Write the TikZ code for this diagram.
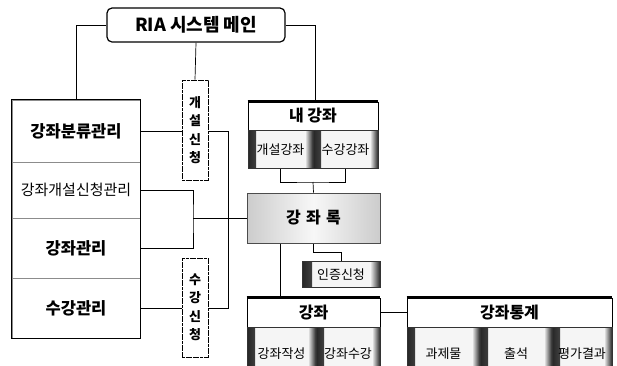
\documentclass[tikz,border=0pt]{standalone}
\usepackage{fontspec}
\setmainfont{Noto Sans CJK KR}
\usetikzlibrary{backgrounds}
\newcommand{\fs}[2]{\fontsize{#1}{#2}\selectfont}
\begin{document}
\begin{tikzpicture}[x=1pt,y=-1pt,
  conn/.style={draw, line width=0.7pt},
  cell/.style={draw=black!45, line width=0.4pt, minimum width=128pt, inner sep=0pt},
  vbox/.style={draw, line width=0.9pt, dash pattern=on 3pt off 0.6pt, fill=white,
    minimum width=26pt, align=center, inner sep=0pt, font=\fs{13}{18.5}\bfseries},
  hdr/.style={draw, line width=0.8pt, fill=white, inner sep=0pt, font=\fs{16}{18}\bfseries},
  edgeshade/.style={fill=gray!8, path picture={
     \shade[left color=black!85, right color=gray!8] (path picture bounding box.south west) rectangle ([xshift=#1]path picture bounding box.north west);
     \shade[left color=gray!8, right color=black!85] ([xshift=-#1]path picture bounding box.south east) rectangle (path picture bounding box.north east);}},
  sub/.style={edgeshade=8pt, draw=black!80, line width=0.6pt, inner sep=0pt, minimum height=53pt,
    text depth=0pt, font=\fs{13}{15}},
]
\useasboundingbox (0,0) rectangle (617,365);
\clip (0,0) rectangle (617,365);

% main
\node[draw, line width=1.2pt, rounded corners=5pt, fill=white, minimum width=178pt, minimum height=34pt,
  inner sep=0pt, font=\fs{18}{20}\bfseries] (ria) at (196,25) {RIA 시스템 메인};

% left box
\node[cell, minimum height=62pt, font=\fs{16.5}{18}\bfseries] (c1) at (76,131) {강좌분류관리};
\node[cell, minimum height=56pt, font=\fs{15}{16}] (c2) at (76,190) {강좌개설신청관리};
\node[cell, minimum height=60pt, font=\fs{16.5}{18}\bfseries] (c3) at (76,248) {강좌관리};
\node[cell, minimum height=60pt, font=\fs{16.5}{18}\bfseries] (c4) at (76,308) {수강관리};
\draw[line width=0.9pt] (c1.north west) rectangle (c4.south east);

% vertical request boxes
\node[vbox, minimum height=100pt] (gs) at (195,130) {개\\설\\신\\청};
\node[vbox, minimum height=99pt] (sg) at (195,307.5) {수\\강\\신\\청};

% my lectures
\node[hdr, minimum width=130pt, minimum height=28pt] (my) at (313,116) {내 강좌};
\node[sub, minimum width=65pt, minimum height=38pt] (my1) at (280.5,149) {개설강좌};
\node[sub, minimum width=65pt, minimum height=38pt] (my2) at (345.5,149) {수강강좌};
\draw[line width=2.5pt] (my.north west) -- (my.north east);

% lecture list
\node[draw=black!70, line width=0.6pt, left color=gray!40, right color=gray!40, middle color=gray!6,
  minimum width=133pt, minimum height=50pt, inner sep=0pt, font=\fs{16}{18}\bfseries] (list) at (313.5,218) {강\,\,좌\,\,록};

% certification
\node[sub, minimum width=78pt, minimum height=26pt, edgeshade=10pt] (cert) at (341,274) {인증신청};

% lecture
\node[hdr, minimum width=133pt, minimum height=29pt] (lec) at (313.5,312.5) {강좌};
\node[sub, minimum width=69pt] (lec1) at (281.5,353.5) {강좌작성};
\node[sub, minimum width=64pt] (lec2) at (348,353.5) {강좌수강};
\draw[line width=2.5pt] (lec.north west) -- (lec.north east);

% statistics
\node[hdr, minimum width=205pt, minimum height=29pt] (st) at (509.5,312.5) {강좌통계};
\node[sub, minimum width=73pt] (st1) at (443.5,353.5) {과제물};
\node[sub, minimum width=72pt] (st2) at (516,353.5) {출석};
\node[sub, minimum width=60pt] (st3) at (582,353.5) {평가결과};
\draw[line width=2.5pt] (st.north west) -- (st.north east);

% connectors
\begin{scope}[on background layer]
\fill[white] (0,0) rectangle (617,365);
\coordinate (jA) at (228,131);
\coordinate (jB) at (193,218);
\coordinate (m1) at (313,182);
\coordinate (m2) at (313.5,252);
\draw[conn] (ria.west) -| (c1.north);
\draw[conn] (ria.east) -| ([xshift=2pt]my.north);
\draw[conn] (ria.south) -- (gs.north);
\draw[conn] (c1.east) -- (jA) |- (c4.east);
\draw[conn] (c2.east) -| (jB) |- (c3.east);
\draw[conn] (jB) -- (list.west);
\draw[conn] (my1.south) |- (m1) -| (my2.south);
\draw[conn] (m1) -- (list.north);
\draw[conn] ([xshift=-33.5pt]list.south) -- ([xshift=-33.5pt]lec.north);
\draw[conn] (list.south) -- (m2) -| (cert.north);
\draw[conn] (lec.east) -- (st.west);
\end{scope}
\end{tikzpicture}
\end{document}
